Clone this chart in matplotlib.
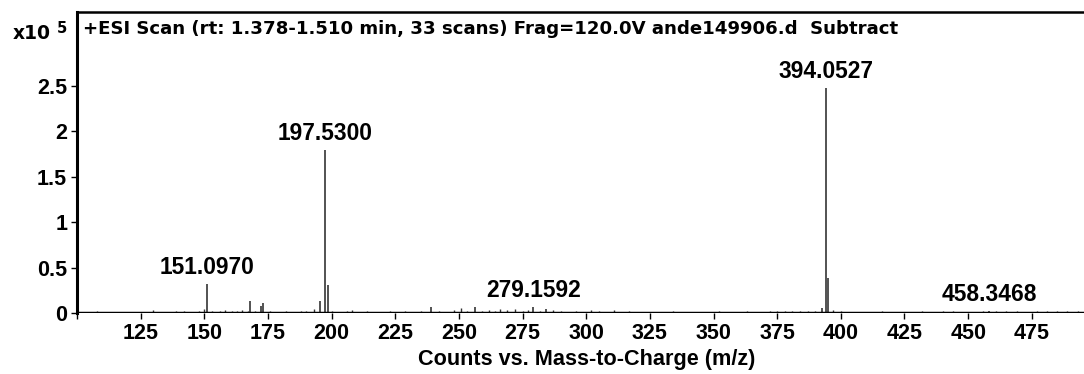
import matplotlib.pyplot as plt
import numpy as np

plt.rcParams['font.family'] = ['Liberation Sans', 'DejaVu Sans']

# main peaks, intensity in units of 1e5 counts
peak_mz = [151.0970, 168.1, 172.4, 173.1, 195.5, 197.5300, 198.53, 239.0, 256.2,
           279.1592, 284.1, 392.6, 394.0527, 395.05, 458.3468]
peak_int = [0.32, 0.13, 0.08, 0.11, 0.13, 1.795, 0.31, 0.07, 0.07,
            0.07, 0.04, 0.05, 2.48, 0.385, 0.02]

# small baseline peaks
noise_mz = [102, 105, 108, 111, 114, 118, 121, 124, 127, 130, 133, 136, 139, 142,
            145, 148, 150, 153, 156, 158, 161, 163, 165, 167, 170, 176, 179, 182,
            185, 188, 190, 193, 200, 203, 206, 208, 211, 214, 217, 220, 223, 226,
            229, 232, 235, 242, 245, 248, 251, 253, 259, 262, 264, 266, 269, 272,
            275, 277, 282, 287, 290, 293, 296, 299, 302, 305, 308, 311, 314, 317,
            320, 323, 327, 330, 334, 337, 341, 345, 348, 352, 356, 360, 363, 366,
            369, 372, 375, 378, 381, 384, 387, 390, 397, 400, 404, 408, 412, 416,
            420, 424, 428, 432, 436, 440, 444, 448, 452, 456, 461, 465, 469, 473,
            477, 481, 485, 489, 493]
noise_int = [0.015, 0.012, 0.018, 0.011, 0.015, 0.010, 0.014, 0.012, 0.016, 0.030,
             0.015, 0.014, 0.018, 0.022, 0.015, 0.027, 0.040, 0.018, 0.022, 0.030,
             0.018, 0.027, 0.030, 0.022, 0.021, 0.024, 0.015, 0.018, 0.014, 0.021,
             0.027, 0.045, 0.018, 0.015, 0.021, 0.033, 0.015, 0.018, 0.014, 0.016,
             0.020, 0.015, 0.018, 0.014, 0.021, 0.018, 0.015, 0.030, 0.050, 0.022,
             0.027, 0.035, 0.022, 0.040, 0.030, 0.040, 0.027, 0.033, 0.022, 0.035,
             0.018, 0.015, 0.018, 0.015, 0.030, 0.018, 0.015, 0.030, 0.015, 0.018,
             0.014, 0.016, 0.015, 0.014, 0.018, 0.015, 0.014, 0.016, 0.015, 0.018,
             0.014, 0.015, 0.018, 0.015, 0.016, 0.018, 0.022, 0.018, 0.021, 0.018,
             0.024, 0.027, 0.030, 0.018, 0.015, 0.016, 0.014, 0.018, 0.015, 0.016,
             0.015, 0.018, 0.015, 0.021, 0.018, 0.015, 0.016, 0.020, 0.018, 0.021,
             0.018, 0.015, 0.024, 0.018, 0.021, 0.018, 0.022]

labels = [(151.0970, 0.32, '151.0970'), (197.5300, 1.795, '197.5300'),
          (279.1592, 0.07, '279.1592'), (394.0527, 2.48, '394.0527'),
          (458.3468, 0.02, '458.3468')]

x_ticks = [100, 125, 150, 175, 200, 225, 250, 275, 300, 325, 350, 375, 400, 425, 450, 475]
x_ticklabels = [''] + [str(t) for t in x_ticks[1:]]
y_ticks = [0, 0.5, 1, 1.5, 2, 2.5]
y_ticklabels = ['0', '0.5', '1', '1.5', '2', '2.5']

fig = plt.figure(figsize=(10.84, 3.74), dpi=100)
ax = fig.add_axes([0.071, 0.163, 0.929, 0.8037])

ax.vlines(noise_mz, 0, noise_int, color='#333333', lw=1.0)
ax.vlines(peak_mz, 0, peak_int, color='#444444', lw=1.3)
ax.axhline(0, color='black', lw=2.5, zorder=3)

for mz, h, txt in labels:
    ax.annotate(txt, (mz, h), xytext=(0, 3.5), textcoords='offset points',
                ha='center', va='bottom', fontsize=16.4, fontweight='bold')

ax.set_xlim(100, 495.5)
ax.set_ylim(0, 3.31)
ax.set_xticks(x_ticks)
ax.set_xticklabels(x_ticklabels)
ax.set_yticks(y_ticks)
ax.set_yticklabels(y_ticklabels)
ax.tick_params(axis='both', labelsize=15.5, length=4, width=1, pad=3)
for lbl in ax.get_xticklabels() + ax.get_yticklabels():
    lbl.set_fontweight('bold')

ax.spines['right'].set_visible(False)
ax.spines['bottom'].set_visible(False)
ax.spines['left'].set_linewidth(2.2)
ax.spines['top'].set_linewidth(1.8)

ax.set_xlabel('Counts vs. Mass-to-Charge (m/z)', fontsize=15.6, fontweight='bold')
ax.xaxis.set_label_coords(0.5065, -0.12)

ax.text(0.006, 0.975, '+ESI Scan (rt: 1.378-1.510 min, 33 scans) Frag=120.0V ande149906.d  Subtract',
        transform=ax.transAxes, ha='left', va='top', fontsize=13.1, fontweight='bold',
        family='DejaVu Sans')
fig.text(13 / 1084, 1 - 39 / 374, 'x10', ha='left', va='baseline', fontsize=13.5, fontweight='bold',
         family='DejaVu Sans')
fig.text(57 / 1084, 1 - 33 / 374, '5', ha='left', va='baseline', fontsize=10.5, fontweight='bold',
         family='DejaVu Sans')

fig.savefig('out.png', dpi=100)
